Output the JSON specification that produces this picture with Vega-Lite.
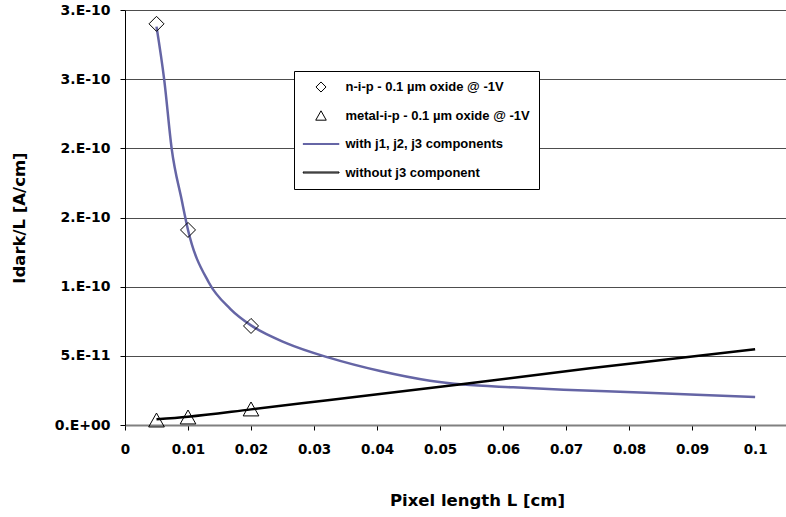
{
  "$schema": "https://vega.github.io/schema/vega-lite/v6.json",
  "width": 661,
  "height": 415,
  "autosize": {"type": "none"},
  "padding": {"left": 125, "top": 10, "right": 0, "bottom": 92},
  "background": "white",
  "config": {"view": {"stroke": null}, "font": "DejaVu Sans"},
  "datasets": {
    "points": [
      {"L": 0.005, "I": 2.9e-10, "series": "n-i-p - 0.1 µm oxide @ -1V"},
      {"L": 0.01, "I": 1.41e-10, "series": "n-i-p - 0.1 µm oxide @ -1V"},
      {"L": 0.02, "I": 7.16e-11, "series": "n-i-p - 0.1 µm oxide @ -1V"},
      {"L": 0.005, "I": 3.6e-12, "series": "metal-i-p - 0.1 µm oxide @ -1V"},
      {"L": 0.01, "I": 5.8e-12, "series": "metal-i-p - 0.1 µm oxide @ -1V"},
      {"L": 0.02, "I": 1.16e-11, "series": "metal-i-p - 0.1 µm oxide @ -1V"}
    ],
    "curves": [
      {"L": 0.005, "I": 2.88e-10, "series": "with j1, j2, j3 components"},
      {"L": 0.00624, "I": 2.49e-10, "series": "with j1, j2, j3 components"},
      {"L": 0.0074, "I": 2.0e-10, "series": "with j1, j2, j3 components"},
      {"L": 0.009, "I": 1.626e-10, "series": "with j1, j2, j3 components"},
      {"L": 0.01, "I": 1.41e-10, "series": "with j1, j2, j3 components"},
      {"L": 0.0133, "I": 1.03e-10, "series": "with j1, j2, j3 components"},
      {"L": 0.0167, "I": 8.4e-11, "series": "with j1, j2, j3 components"},
      {"L": 0.02, "I": 7.2e-11, "series": "with j1, j2, j3 components"},
      {"L": 0.0257, "I": 5.9e-11, "series": "with j1, j2, j3 components"},
      {"L": 0.0325, "I": 4.85e-11, "series": "with j1, j2, j3 components"},
      {"L": 0.0405, "I": 3.9e-11, "series": "with j1, j2, j3 components"},
      {"L": 0.0484, "I": 3.2e-11, "series": "with j1, j2, j3 components"},
      {"L": 0.0537, "I": 2.92e-11, "series": "with j1, j2, j3 components"},
      {"L": 0.0616, "I": 2.72e-11, "series": "with j1, j2, j3 components"},
      {"L": 0.0696, "I": 2.55e-11, "series": "with j1, j2, j3 components"},
      {"L": 0.0828, "I": 2.34e-11, "series": "with j1, j2, j3 components"},
      {"L": 0.0907, "I": 2.18e-11, "series": "with j1, j2, j3 components"},
      {"L": 0.1, "I": 2.02e-11, "series": "with j1, j2, j3 components"},
      {"L": 0.005, "I": 4.1e-12, "series": "without j3 component"},
      {"L": 0.01, "I": 6.0e-12, "series": "without j3 component"},
      {"L": 0.02, "I": 1.13e-11, "series": "without j3 component"},
      {"L": 0.0325, "I": 1.81e-11, "series": "without j3 component"},
      {"L": 0.0537, "I": 2.96e-11, "series": "without j3 component"},
      {"L": 0.0738, "I": 4.1e-11, "series": "without j3 component"},
      {"L": 0.0828, "I": 4.58e-11, "series": "without j3 component"},
      {"L": 0.1, "I": 5.47e-11, "series": "without j3 component"}
    ]
  },
  "encoding": {
    "x": {
      "field": "L",
      "type": "quantitative",
      "scale": {"domain": [0, 0.1049], "nice": false, "zero": false},
      "axis": {
        "values": [0, 0.01, 0.02, 0.03, 0.04, 0.05, 0.06, 0.07, 0.08, 0.09, 0.1],
        "labelExpr": "datum.value == 0 ? '0' : format(datum.value, '.2~f')",
        "grid": false,
        "domainColor": "#808080",
        "domainWidth": 2,
        "tickColor": "black",
        "tickSize": 5,
        "labelFont": "DejaVu Sans",
        "labelFontSize": 13.5,
        "labelFontWeight": "bold",
        "labelColor": "black",
        "labelPadding": 12,
        "labelFlush": false,
        "labelOverlap": false,
        "title": "Pixel length L [cm]",
        "titleFont": "DejaVu Sans",
        "titleFontSize": 16.5,
        "titleFontWeight": "bold",
        "titleColor": "black",
        "titleX": 352,
        "titleY": 75,
        "titleBaseline": "middle",
        "titleAlign": "center"
      }
    },
    "y": {
      "field": "I",
      "type": "quantitative",
      "scale": {"domain": [0, 3e-10], "nice": false},
      "axis": {
        "values": [0, 5e-11, 1e-10, 1.5e-10, 2e-10, 2.5e-10, 3e-10],
        "labelExpr": "datum.value == 0 ? '0.E+00' : datum.value < 7e-11 ? '5.E-11' : datum.value < 1.2e-10 ? '1.E-10' : datum.value < 2.2e-10 ? '2.E-10' : '3.E-10'",
        "grid": true,
        "gridColor": "#4d4d4d",
        "gridWidth": 1,
        "domainColor": "black",
        "tickColor": "black",
        "tickSize": 5,
        "labelFont": "DejaVu Sans",
        "labelFontSize": 14,
        "labelFontWeight": "bold",
        "labelColor": "black",
        "labelPadding": 10,
        "title": "Idark/L [A/cm]",
        "titleFont": "DejaVu Sans",
        "titleFontSize": 16.5,
        "titleFontWeight": "bold",
        "titleColor": "black",
        "titleX": -106,
        "titleY": 207.5,
        "titleAngle": -90,
        "titleBaseline": "middle",
        "titleAlign": "center"
      }
    }
  },
  "layer": [
    {
      "data": {"name": "curves"},
      "mark": {"type": "line", "strokeWidth": 2.5, "interpolate": "monotone"},
      "encoding": {
        "color": {
          "field": "series",
          "type": "nominal",
          "scale": {
            "domain": ["n-i-p - 0.1 µm oxide @ -1V", "metal-i-p - 0.1 µm oxide @ -1V", "with j1, j2, j3 components", "without j3 component"],
            "range": ["black", "black", "#6565A5", "black"]
          }
        }
      }
    },
    {
      "data": {"name": "points"},
      "mark": {"type": "point", "filled": false, "strokeWidth": 1, "size": 2870, "opacity": 1},
      "encoding": {
        "color": {
          "field": "series",
          "type": "nominal",
          "scale": {
            "domain": ["n-i-p - 0.1 µm oxide @ -1V", "metal-i-p - 0.1 µm oxide @ -1V", "with j1, j2, j3 components", "without j3 component"],
            "range": ["black", "black", "#6565A5", "black"]
          },
          "legend": {
            "orient": "none",
            "legendX": 169,
            "legendY": 61,
            "title": null,
            "strokeColor": "black",
            "fillColor": "white",
            "padding": 8.5,
            "cornerRadius": 0,
            "labelFont": "Liberation Sans",
            "labelFontSize": 13,
            "labelFontWeight": "bold",
            "labelColor": "black",
            "labelLimit": 400,
            "labelOffset": 6,
            "symbolSize": 1296,
            "symbolOffset": 0,
            "symbolStrokeWidth": 1,
            "symbolFillColor": "transparent",
            "rowPadding": 13.5,
            "clipHeight": 15
          }
        },
        "shape": {
          "field": "series",
          "type": "nominal",
          "scale": {
            "domain": ["n-i-p - 0.1 µm oxide @ -1V", "metal-i-p - 0.1 µm oxide @ -1V", "with j1, j2, j3 components", "without j3 component"],
            "range": [
              "M0,-0.28L0.28,0L0,0.28L-0.28,0Z",
              "M0,-0.26L0.293,0.26L-0.293,0.26Z",
              "M-1,-0.028H1V0.028H-1Z",
              "M-1,-0.028H1V0.028H-1Z"
            ]
          },
          "legend": {
            "orient": "none",
            "legendX": 169,
            "legendY": 61,
            "title": null
          }
        }
      }
    }
  ]
}
